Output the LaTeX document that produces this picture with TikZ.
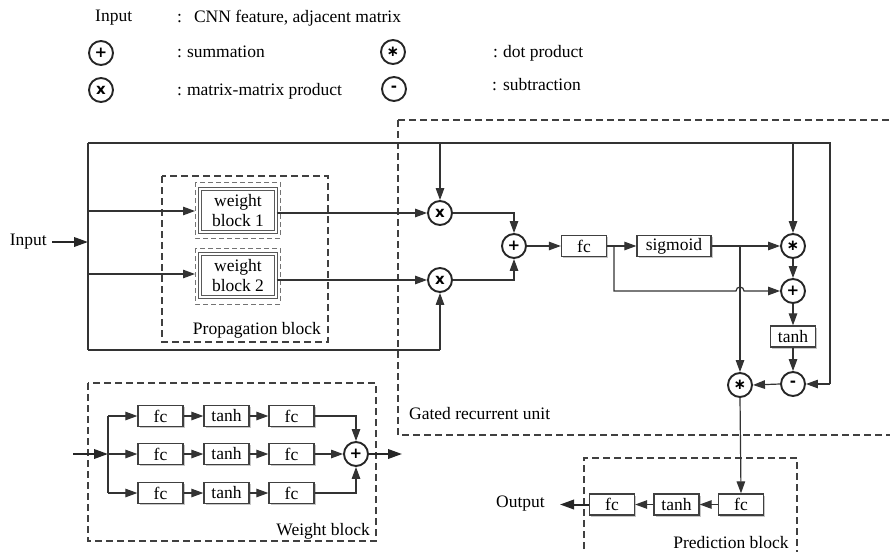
\documentclass[tikz,border=0pt]{standalone}
\usepackage{fontspec}
\setmainfont{Liberation Serif}
\newfontfamily\symfont{DejaVu Sans}
\usetikzlibrary{arrows.meta,shadows}
\newcommand{\dotop}{∗}

\begin{document}
\begin{tikzpicture}[x=1pt,y=-1pt,
  font=\fontsize{17.5}{21}\selectfont,
  line/.style={draw=black!80, line width=1.2pt},
  arr/.style={line, -{Triangle[length=12pt,width=8.5pt]}},
  bigarr/.style={draw=black!85, line width=2pt, -{Triangle[length=14pt,width=9.5pt]}},
  op/.style={circle, draw=black!85, line width=1.9pt, minimum size=24pt, inner sep=0pt, fill=white,
    font=\symfont\bfseries\fontsize{15}{15}\selectfont},
  unit/.style={rectangle, draw=black!75, line width=1.3pt, fill=white, minimum width=45pt,
    minimum height=21pt, inner sep=0pt,
    general shadow={fill=black!22, shadow xshift=1.5pt, shadow yshift=-1.5pt}},
  wunit/.style={rectangle, draw=black!65, line width=1pt, double=white, double distance=1.4pt,
    minimum width=76pt, minimum height=43pt, inner sep=0pt, align=center},
  group/.style={draw=black!75, line width=1.1pt, dash pattern=on 7pt off 4pt},
  subgroup/.style={draw=black!55, line width=0.9pt, dash pattern=on 5pt off 3pt},
  txt/.style={inner sep=0pt}
]
\useasboundingbox (0,0) rectangle (890,551);

% ---------------- legend ----------------
\node[txt, anchor=west] (lginp) at (95,18) {Input};
\node[txt, anchor=west] (lgcnn) at (177,18) {:\hspace{12pt}CNN feature, adjacent matrix};
\node[op] (lgsum) at (101,53) {+};
\node[txt, anchor=west] (lgsumt) at (177,52) {:\hspace{5pt}summation};
\node[op] (lgmm) at (101,90) {x};
\node[txt, anchor=west] (lgmmt) at (177,91) {:\hspace{5pt}matrix-matrix product};
\node[op] (lgdot) at (393,52) {\dotop};
\node[txt, anchor=west] (lgdott) at (493,53) {:\hspace{5pt}dot product};
\node[op] (lgsub) at (394,89) {-};
\node[txt, anchor=west] (lgsubt) at (492,85) {:\hspace{6pt}subtraction};

% ---------------- group frames ----------------
\draw[group] (162,176) rectangle (328,342);
\draw[group] (398,120) -- (898,120) (398,120) -- (398,435) -- (898,435);
\draw[group] (584,560) -- (584,458) -- (797,458) -- (797,560);
\draw[group] (88,383) rectangle (376,541);
\draw[subgroup] (195,182) rectangle (280,238);
\draw[subgroup] (195,248) rectangle (280,304);

\node[txt, anchor=east] (lbprop) at (321,330) {Propagation block};
\node[txt, anchor=west] (lbgru) at (409,414) {Gated recurrent unit};
\node[txt] (lbpred) at (731,543) {Prediction block};
\node[txt, anchor=east] (lbweight) at (370,531) {Weight block};

% ---------------- propagation block ----------------
\node[txt, anchor=east] (inp) at (47,242) {Input};
\coordinate (split) at (88,242);
\coordinate (topl) at (88,143);
\coordinate (botl) at (88,350);
\coordinate (topr) at (830,143);
\node[wunit] (wb1) at (238,210.5) {weight\\[-1pt]block 1};
\node[wunit] (wb2) at (238,275.5) {weight\\[-1pt]block 2};

% ---------------- gated recurrent unit ----------------
\node[op] (m1) at (440,213) {x};
\node[op] (m2) at (440,280) {x};
\node[op] (s1) at (514,246) {+};
\node[unit] (fc1) at (584,246) {fc};
\node[unit, minimum width=74pt] (sig) at (674,246) {sigmoid};
\node[op] (d1) at (793,246) {\dotop};
\node[op] (s2) at (793,291) {+};
\node[unit] (th) at (793,336.5) {tanh};
\node[op] (sub) at (793,384) {-};
\node[op] (d2) at (740,385) {\dotop};

% ---------------- prediction block ----------------
\node[unit] (pfc1) at (741,504.5) {fc};
\node[unit] (ptanh) at (676.5,504.5) {tanh};
\node[unit] (pfc2) at (612,504.5) {fc};
\node[txt, anchor=east] (outp) at (545,504) {Output};

% ---------------- weight block ----------------
\coordinate (win) at (73,454);
\coordinate (wsplit) at (108,454);
\node[unit] (a1) at (160.5,416) {fc};
\node[unit] (b1) at (226.5,416) {tanh};
\node[unit] (c1) at (291.5,416) {fc};
\node[unit] (a2) at (160.5,454) {fc};
\node[unit] (b2) at (226.5,454) {tanh};
\node[unit] (c2) at (291.5,454) {fc};
\node[unit] (a3) at (160.5,493) {fc};
\node[unit] (b3) at (226.5,493) {tanh};
\node[unit] (c3) at (291.5,493) {fc};
\node[op] (ws) at (356,454) {+};
\coordinate (wout) at (402,454);

% ---------------- connectors: propagation ----------------
\draw[bigarr] ([xshift=5pt]inp.east) -- (split);
\draw[line] (topl) -- (botl);
\draw[line] (topl) -- (topr) -- (topr |- sub) ;
\draw[arr] (topr |- sub) -- (sub.east);
\draw[arr] (m1 |- topl) -- (m1.north);
\draw[arr] (d1 |- topl) -- (d1.north);
\draw[arr] (88,211) -- (195,211);
\draw[arr] (88,274) -- (195,274);
\draw[line] (botl) -- (m2 |- botl);
\draw[arr] (m2 |- botl) -- (m2.south);
\draw[arr] (wb1.east |- m1) -- (m1.west);
\draw[arr] (wb2.east |- m2) -- (m2.west);

% ---------------- connectors: GRU ----------------
\draw[arr] (m1.east) -| (s1.north);
\draw[arr] (m2.east) -| (s1.south);
\draw[arr] (s1.east) -- (fc1.west);
\draw[arr] (fc1.east) -- (sig.west);
\draw[arr] (sig.east) -- (d1.west);
\draw[arr] (614,246) -- (614,291) -- (736,291) arc[start angle=180, end angle=0, radius=4pt] -- (s2.west);
\draw[arr] (d2 |- sig) -- (d2.north);
\draw[arr] (d1.south) -- (s2.north);
\draw[arr] (s2.south) -- (th.north);
\draw[arr] (th.south) -- (sub.north);
\draw[arr] (sub.west) -- (d2.east);
\draw[arr] (d2.south) -- (pfc1.north);

% ---------------- connectors: prediction ----------------
\draw[arr] (pfc1.west) -- (ptanh.east);
\draw[arr] (ptanh.west) -- (pfc2.east);
\draw[bigarr] (pfc2.west) -- (560,504.5);

% ---------------- connectors: weight block ----------------
\draw[bigarr] (win) -- (wsplit);
\draw[line] (108,416) -- (108,493);
\draw[arr] (108,416) -- (a1.west);
\draw[arr] (wsplit) -- (a2.west);
\draw[arr] (108,493) -- (a3.west);
\foreach \r in {1,2,3} {
  \draw[arr] (a\r.east) -- (b\r.west);
  \draw[arr] (b\r.east) -- (c\r.west);
}
\draw[arr] (c1.east) -| (ws.north);
\draw[arr] (c2.east) -- (ws.west);
\draw[arr] (c3.east) -| (ws.south);
\draw[bigarr] (ws.east) -- (wout);
\end{tikzpicture}
\end{document}
